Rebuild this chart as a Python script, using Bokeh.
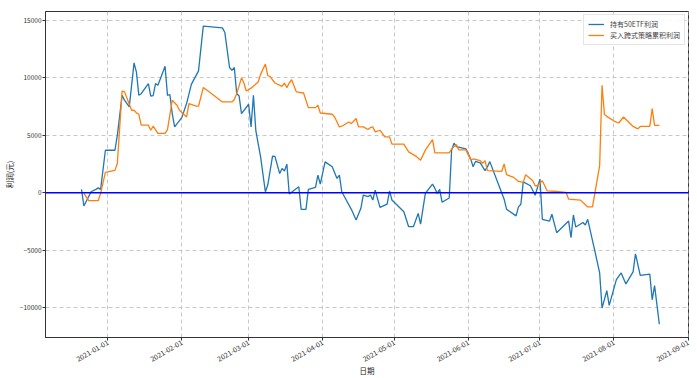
import math
import pandas as pd
from bokeh.plotting import figure
from bokeh.models import Range1d, FixedTicker, DatetimeTickFormatter, Span
from bokeh.embed import file_html
from bokeh.resources import INLINE

FONT = "Noto Sans CJK SC"

# 持有50ETF利润
etf_dates = ["2020-12-21", "2020-12-22", "2020-12-25", "2020-12-27", "2020-12-28", "2020-12-29",
             "2020-12-31", "2021-01-04", "2021-01-05", "2021-01-07", "2021-01-08", "2021-01-10",
             "2021-01-12", "2021-01-13", "2021-01-14", "2021-01-15", "2021-01-18", "2021-01-19",
             "2021-01-20", "2021-01-21", "2021-01-22", "2021-01-25", "2021-01-26", "2021-01-27",
             "2021-01-28", "2021-01-29", "2021-02-01", "2021-02-03", "2021-02-05", "2021-02-08",
             "2021-02-10", "2021-02-18", "2021-02-19", "2021-02-21", "2021-02-22", "2021-02-23",
             "2021-02-24", "2021-02-25", "2021-02-26", "2021-03-01", "2021-03-02", "2021-03-03",
             "2021-03-04", "2021-03-06", "2021-03-08", "2021-03-09", "2021-03-11", "2021-03-12",
             "2021-03-14", "2021-03-15", "2021-03-16", "2021-03-17", "2021-03-18", "2021-03-22",
             "2021-03-23", "2021-03-25", "2021-03-26", "2021-03-29", "2021-03-30", "2021-03-31",
             "2021-04-02", "2021-04-05", "2021-04-07", "2021-04-08", "2021-04-09", "2021-04-13",
             "2021-04-15", "2021-04-17", "2021-04-18", "2021-04-20", "2021-04-21", "2021-04-22",
             "2021-04-23", "2021-04-25", "2021-04-28", "2021-04-29", "2021-04-30", "2021-05-05",
             "2021-05-07", "2021-05-09", "2021-05-11", "2021-05-12", "2021-05-14", "2021-05-17",
             "2021-05-18", "2021-05-19", "2021-05-20", "2021-05-21", "2021-05-24", "2021-05-25",
             "2021-05-26", "2021-05-27", "2021-05-31", "2021-06-02", "2021-06-03", "2021-06-04",
             "2021-06-06", "2021-06-08", "2021-06-09", "2021-06-10", "2021-06-14", "2021-06-16",
             "2021-06-17", "2021-06-21", "2021-06-22", "2021-06-23", "2021-06-24", "2021-06-27",
             "2021-06-29", "2021-07-01", "2021-07-02", "2021-07-05", "2021-07-06", "2021-07-08",
             "2021-07-13", "2021-07-14", "2021-07-15", "2021-07-16", "2021-07-19", "2021-07-20",
             "2021-07-21", "2021-07-24", "2021-07-26", "2021-07-27", "2021-07-29", "2021-07-30",
             "2021-08-02", "2021-08-04", "2021-08-06", "2021-08-09", "2021-08-10", "2021-08-12",
             "2021-08-16", "2021-08-17", "2021-08-18", "2021-08-20"]
etf_profit = [295, -1150, 90, 300, 430, 300,
              3700, 3700, 5000, 8480, 8050, 7470,
              11300, 10500, 8480, 8620, 9500, 8400,
              8450, 9500, 9350, 11000, 8480, 8550,
              6890, 5730, 6540, 7760, 9430, 10600,
              14500, 14350, 13970, 10900, 10650, 10900,
              8630, 8420, 6890, 7700, 5730, 8480,
              5400, 3125, 90, 670, 3190, 3170,
              1680, 2110, 1900, 2490, -110, 520,
              -1440, -1440, 300, 470, 1540, 760,
              2690, 2260, 1250, 1540, 90, -1440,
              -2370, -1350, -200, -330, -200, -630,
              230, -1270, -980, 170, -630, -1650,
              -2950, -2950, -1790, -2720, -50, 760,
              380, -50, 300, -820, -450, 3700,
              4310, 4020, 3820, 2940, 2270, 2730,
              2600, 1920, 2270, 2710, 520, -560,
              -1430, -2010, -1230, -1000, 950, 610,
              -210, 1190, -2310, -2460, -1870, -3470,
              -2460, -3910, -1930, -2980, -2590, -2800,
              -2310, -5080, -6970, -10030, -8520, -9800,
              -7560, -6970, -7930, -6880, -5310, -7180,
              -7070, -9310, -8080, -11440]

# 买入跨式策略累积利润
straddle_dates = ["2020-12-22", "2020-12-24", "2020-12-28", "2020-12-29", "2020-12-31", "2021-01-04",
                  "2021-01-05", "2021-01-07", "2021-01-08", "2021-01-10", "2021-01-11", "2021-01-12",
                  "2021-01-13", "2021-01-14", "2021-01-15", "2021-01-18", "2021-01-19", "2021-01-20",
                  "2021-01-22", "2021-01-25", "2021-01-26", "2021-01-28", "2021-01-30", "2021-01-31",
                  "2021-02-03", "2021-02-04", "2021-02-07", "2021-02-08", "2021-02-10", "2021-02-12",
                  "2021-02-18", "2021-02-22", "2021-02-23", "2021-02-24", "2021-02-26", "2021-02-27",
                  "2021-02-28", "2021-03-02", "2021-03-05", "2021-03-06", "2021-03-08", "2021-03-09",
                  "2021-03-10", "2021-03-12", "2021-03-15", "2021-03-16", "2021-03-17", "2021-03-18",
                  "2021-03-19", "2021-03-21", "2021-03-24", "2021-03-26", "2021-03-29", "2021-03-30",
                  "2021-03-31", "2021-04-05", "2021-04-06", "2021-04-08", "2021-04-09", "2021-04-12",
                  "2021-04-13", "2021-04-15", "2021-04-16", "2021-04-18", "2021-04-20", "2021-04-21",
                  "2021-04-22", "2021-04-23", "2021-04-25", "2021-04-27", "2021-04-29", "2021-04-30",
                  "2021-05-05", "2021-05-07", "2021-05-10", "2021-05-12", "2021-05-14", "2021-05-17",
                  "2021-05-18", "2021-05-24", "2021-05-25", "2021-05-27", "2021-05-28", "2021-05-31",
                  "2021-06-02", "2021-06-03", "2021-06-06", "2021-06-07", "2021-06-08", "2021-06-09",
                  "2021-06-15", "2021-06-16", "2021-06-17", "2021-06-20", "2021-06-22", "2021-06-24",
                  "2021-06-25", "2021-06-28", "2021-06-29", "2021-06-30", "2021-07-02", "2021-07-04",
                  "2021-07-08", "2021-07-12", "2021-07-13", "2021-07-18", "2021-07-21", "2021-07-23",
                  "2021-07-26", "2021-07-27", "2021-07-28", "2021-07-29", "2021-08-01", "2021-08-03",
                  "2021-08-05", "2021-08-09", "2021-08-11", "2021-08-12", "2021-08-16", "2021-08-17",
                  "2021-08-18", "2021-08-20"]
straddle_profit = [-50, -690, -690, -50, 1780, 1950,
                   2550, 8850, 8800, 7700, 7180, 7180,
                   6950, 6830, 5880, 5880, 5440, 5790,
                   5160, 5160, 5500, 8050, 7610, 7180,
                   6600, 7760, 7530, 7530, 9150, 8850,
                   7900, 7900, 8110, 8630, 10000, 9550,
                   8850, 9100, 9640, 10300, 11200, 10200,
                   10100, 9550, 9260, 9550, 9150, 9550,
                   9840, 8770, 8680, 7410, 7410, 7610,
                   6940, 6830, 6600, 5730, 5790, 6160,
                   6020, 6460, 5730, 5730, 5500, 5670,
                   5730, 5300, 5440, 4860, 4860, 4230,
                   4230, 3560, 3190, 2840, 3710, 4630,
                   3470, 3470, 3820, 4190, 3730, 3730,
                   2860, 2940, 2800, 2560, 2800, 1920,
                   1870, 2510, 1570, 1340, 990, 900,
                   1570, 1050, 610, 610, 1050, 170,
                   110, 30, -560, -640, -1230, -1230,
                   2360, 9350, 6820, 6650, 6240, 6070,
                   6590, 5770, 5560, 5770, 5770, 7320,
                   5860, 5860]

tick_dates = ["2021-01-01", "2021-02-01", "2021-03-01", "2021-04-01", "2021-05-01",
              "2021-06-01", "2021-07-01", "2021-08-01", "2021-09-01"]
y_ticks = [-10000, -5000, 0, 5000, 10000, 15000]

x_start = pd.Timestamp("2020-12-05 22:00")
x_end = pd.Timestamp("2021-09-01 05:00")

p = figure(width=697, height=378, output_backend="svg", toolbar_location=None,
           x_axis_type="datetime",
           x_range=Range1d(x_start, x_end), y_range=Range1d(-12590, 15770),
           min_border_left=43, min_border_right=9, min_border_top=11, min_border_bottom=40)

p.background_fill_color = "white"
p.border_fill_color = "white"
p.outline_line_color = "#333333"
p.outline_line_width = 1

def ms(s):
    return pd.Timestamp(s).value / 1e6

p.xaxis.ticker = FixedTicker(ticks=[ms(d) for d in tick_dates])
fmt = "%Y-%m-%d"
p.xaxis.formatter = DatetimeTickFormatter(milliseconds=fmt, seconds=fmt, minsec=fmt, minutes=fmt,
                                          hourmin=fmt, hours=fmt, days=fmt, months=fmt, years=fmt)
p.yaxis.ticker = FixedTicker(ticks=y_ticks)
p.xaxis.major_label_orientation = math.pi / 6

for ax in (p.xaxis[0], p.yaxis[0]):
    ax.major_label_text_font = FONT
    ax.major_label_text_color = "#333333"
    ax.axis_label_text_font = FONT
    ax.axis_label_text_font_size = "7.5px"
    ax.axis_label_text_font_style = "normal"
    ax.axis_label_text_color = "#222222"
    ax.axis_line_color = "#333333"
    ax.major_tick_line_color = "#333333"
    ax.major_tick_out = 3
    ax.major_tick_in = 0
    ax.minor_tick_line_color = None
    ax.major_label_standoff = 1

p.xaxis.major_label_text_font_size = "7px"
p.yaxis.major_label_text_font_size = "6.5px"
p.xaxis.axis_label = "日期"
p.yaxis.axis_label = "利润(元)"
p.xaxis.axis_label_standoff = -3
p.yaxis.axis_label_standoff = 2

p.xgrid.grid_line_color = "#c8c8c8"
p.ygrid.grid_line_color = "#c8c8c8"
p.xgrid.grid_line_dash = "4 3"
p.ygrid.grid_line_dash = "4 3"
p.xgrid.grid_line_width = 1
p.ygrid.grid_line_width = 1

etf_x = pd.to_datetime(etf_dates)
str_x = pd.to_datetime(straddle_dates)

p.line(etf_x, etf_profit, line_color="#1f77b4", line_width=1.3, legend_label="持有50ETF利润")
p.line(str_x, straddle_profit, line_color="#ff7f0e", line_width=1.3, legend_label="买入跨式策略累积利润")

p.add_layout(Span(location=0, dimension="width", line_color="blue", line_width=1.5))

lg = p.legend[0]
lg.location = "top_right"
lg.label_text_font = FONT
lg.label_text_font_size = "7px"
lg.label_height = 8
lg.glyph_height = 8
lg.glyph_width = 16
lg.label_standoff = 6
lg.spacing = 1
lg.padding = 4
lg.margin = 3
lg.border_line_color = "#cccccc"
lg.background_fill_alpha = 0.85

open("out.html", "w").write(file_html(p, INLINE))
